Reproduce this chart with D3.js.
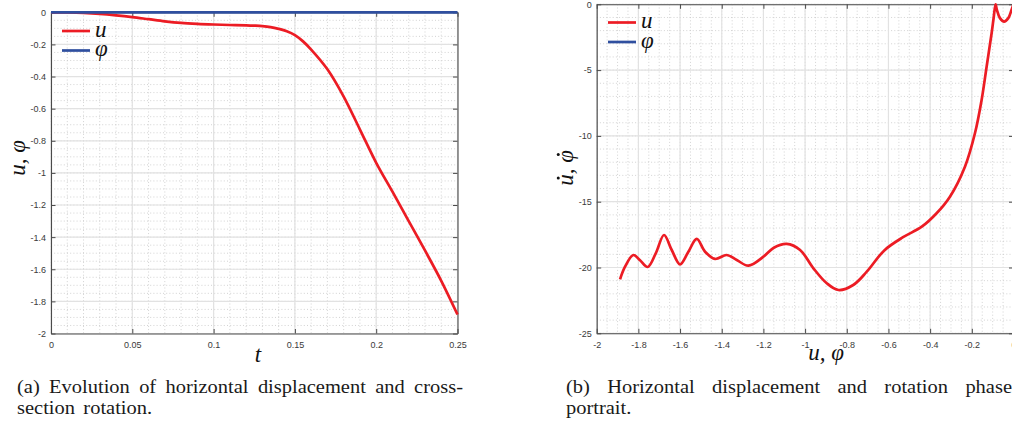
<!DOCTYPE html>
<html><head><meta charset="utf-8">
<script src="https://cdn.jsdelivr.net/npm/d3@7"></script>
<style>
html,body{margin:0;padding:0;background:#fff;}
svg{display:block;}
</style></head><body>
<svg id="fig" width="1012" height="429"></svg>
<script>
// ---- time history: horizontal displacement u(t) and rotation phi(t)
const timeT = [0, 0.01, 0.02, 0.03, 0.04, 0.05, 0.06, 0.07, 0.08, 0.09, 0.10, 0.11, 0.12, 0.125, 0.13,
               0.135, 0.14, 0.145, 0.15, 0.155, 0.16, 0.17, 0.18, 0.19, 0.20, 0.21, 0.22, 0.23, 0.24, 0.25];
const dispU = [0, -0.001, -0.004, -0.010, -0.019, -0.030, -0.043, -0.056, -0.066, -0.072, -0.076, -0.079, -0.081, -0.083, -0.086,
               -0.092, -0.103, -0.118, -0.142, -0.181, -0.232, -0.355, -0.525, -0.730, -0.937, -1.117, -1.300, -1.483, -1.672, -1.882];
const rotPhi = [0, 0, 0, 0, 0, 0, 0, 0, 0, 0, 0, 0, 0, 0, 0,
                0, 0, 0, 0, 0, 0, 0, 0, 0, 0, 0, 0, 0, 0, 0];

// ---- phase portrait: (u, du/dt) in time order, (phi, dphi/dt)
const phaseU  = [0, -0.010, -0.025, -0.045, -0.065, -0.080, -0.086, -0.095, -0.105, -0.129, -0.153, -0.185,
                 -0.233, -0.305, -0.369, -0.440, -0.530, -0.620, -0.704, -0.769, -0.840, -0.896, -0.960,
                 -1.024, -1.088, -1.150, -1.200, -1.272, -1.328, -1.376, -1.432, -1.480, -1.520, -1.560,
                 -1.600, -1.640, -1.677, -1.716, -1.755, -1.792, -1.824, -1.864, -1.888];
const phaseDU = [0, -0.45, -1.05, -1.32, -1.05, -0.40, 0, -1.0, -2.2, -4.74, -7.27, -9.8,
                 -12.34, -14.62, -15.88, -16.9, -17.7, -18.7, -20.32, -21.33, -21.71, -21.2, -20.06,
                 -18.67, -18.21, -18.5, -19.18, -19.86, -19.43, -19.05, -19.35, -18.8, -17.83, -18.8,
                 -19.76, -18.67, -17.53, -18.9, -19.96, -19.45, -19.05, -19.94, -20.9];
const phasePhi  = [0, 0];
const phaseDPhi = [0, 0];

// ---- ticks
const tTicks  = [0, 0.05, 0.1, 0.15, 0.2, 0.25];
const tLabels = ["0", "0.05", "0.1", "0.15", "0.2", "0.25"];
const uTicks  = [0, -0.2, -0.4, -0.6, -0.8, -1, -1.2, -1.4, -1.6, -1.8, -2];
const uLabels = ["0", "-0.2", "-0.4", "-0.6", "-0.8", "-1", "-1.2", "-1.4", "-1.6", "-1.8", "-2"];
const pTicks  = [-2, -1.8, -1.6, -1.4, -1.2, -1, -0.8, -0.6, -0.4, -0.2, 0];
const pLabels = ["-2", "-1.8", "-1.6", "-1.4", "-1.2", "-1", "-0.8", "-0.6", "-0.4", "-0.2", "0"];
const vTicks  = [0, -5, -10, -15, -20, -25];
const vLabels = ["0", "-5", "-10", "-15", "-20", "-25"];

const RED = "#ec1c24", BLUE = "#2f4f9f";
const mathFont = "Liberation Serif, Times New Roman, serif";
const svg = d3.select("#fig");

function panel(o) {
  const g = svg.append("g");
  const [xa, xb] = o.x.range();
  const [yb, ya] = o.y.range();
  // minor grid (dotted)
  g.append("g").selectAll("line").data(o.xMinor).join("line")
    .attr("x1", d => o.x(d)).attr("x2", d => o.x(d)).attr("y1", ya).attr("y2", yb)
    .attr("stroke", "#c8c8c8").attr("stroke-width", 0.8).attr("stroke-dasharray", "1,2.2");
  g.append("g").selectAll("line").data(o.yMinor).join("line")
    .attr("y1", d => o.y(d)).attr("y2", d => o.y(d)).attr("x1", xa).attr("x2", xb)
    .attr("stroke", "#c8c8c8").attr("stroke-width", 0.8).attr("stroke-dasharray", "1,2.2");
  // major grid
  g.append("g").selectAll("line").data(o.xTicks).join("line")
    .attr("x1", d => o.x(d)).attr("x2", d => o.x(d)).attr("y1", ya).attr("y2", yb)
    .attr("stroke", "#e2e2e2").attr("stroke-width", 1.2);
  g.append("g").selectAll("line").data(o.yTicks).join("line")
    .attr("y1", d => o.y(d)).attr("y2", d => o.y(d)).attr("x1", xa).attr("x2", xb)
    .attr("stroke", "#e2e2e2").attr("stroke-width", 1.2);

  const fmt = (labels, ticks) => d => labels[ticks.indexOf(d)];
  const style = a => {
    a.selectAll("path.domain").attr("stroke", "#4a4a4a").attr("stroke-width", 1.1);
    a.selectAll(".tick line").attr("stroke", "#4a4a4a").attr("stroke-width", 1);
    a.selectAll("text").attr("fill", "#3a3a3a").style("font-family", "Liberation Sans, Arial, sans-serif").style("font-size", "9px");
  };
  g.append("g").attr("transform", `translate(0,${yb})`)
    .call(d3.axisBottom(o.x).tickValues(o.xTicks).tickFormat(fmt(o.xLabels, o.xTicks))
      .tickSizeInner(-4.5).tickSizeOuter(0).tickPadding(8.5)).call(style);
  g.append("g").attr("transform", `translate(0,${ya})`)
    .call(d3.axisTop(o.x).tickValues(o.xTicks).tickFormat("")
      .tickSizeInner(-4.5).tickSizeOuter(0)).call(style);
  g.append("g").attr("transform", `translate(${xa},0)`)
    .call(d3.axisLeft(o.y).tickValues(o.yTicks).tickFormat(fmt(o.yLabels, o.yTicks))
      .tickSizeInner(-4.5).tickSizeOuter(0).tickPadding(5)).call(style);
  g.append("g").attr("transform", `translate(${xb},0)`)
    .call(d3.axisRight(o.y).tickValues(o.yTicks).tickFormat("")
      .tickSizeInner(-4.5).tickSizeOuter(0)).call(style);

  // curves
  o.series.forEach(s => {
    const pts = s.xs.map((v, i) => [v, s.ys[i]]);
    g.append("path").datum(pts)
      .attr("d", d3.line().x(d => o.x(d[0])).y(d => o.y(d[1])).curve(d3.curveCatmullRom.alpha(0.5)))
      .attr("fill", "none").attr("stroke", s.color).attr("stroke-width", 2.7)
      .attr("stroke-linejoin", "round").attr("stroke-linecap", "butt");
  });

  // legend
  const lg = g.append("g").attr("transform", `translate(${o.legend[0]},${o.legend[1]})`);
  o.series.forEach((s, i) => {
    lg.append("line").attr("x1", 0).attr("x2", 28).attr("y1", i * 19.5).attr("y2", i * 19.5)
      .attr("stroke", s.color).attr("stroke-width", 2.7);
    lg.append("text").attr("x", 33).attr("y", i * 19.5 + 5.5).text(s.name)
      .style("font-family", mathFont).style("font-style", "italic")
      .style("font-size", "23px").attr("fill", "#111");
  });
  return g;
}

// (a) time history
const xA = d3.scaleLinear().domain([0, 0.25]).range([51, 457.5]);
const yA = d3.scaleLinear().domain([-2, 0]).range([333.5, 12.3]);
panel({
  x: xA, y: yA,
  xTicks: tTicks, xLabels: tLabels, yTicks: uTicks, yLabels: uLabels,
  xMinor: d3.range(0, 0.2501, 0.01), yMinor: d3.range(-2, 0.0001, 0.05),
  series: [
    { xs: timeT, ys: dispU, color: RED, name: "u" },
    { xs: timeT, ys: rotPhi, color: BLUE, name: "\u03C6" }
  ],
  legend: [62, 31]
});

// (b) phase portrait
const xB = d3.scaleLinear().domain([-2, 0]).range([596.7, 1013.5]);
const yB = d3.scaleLinear().domain([-25, 0]).range([333.3, 4.3]);
panel({
  x: xB, y: yB,
  xTicks: pTicks, xLabels: pLabels, yTicks: vTicks, yLabels: vLabels,
  xMinor: d3.range(-2, 0.0001, 0.05), yMinor: d3.range(-25, 0.0001, 1),
  series: [
    { xs: phaseU, ys: phaseDU, color: RED, name: "u" },
    { xs: phasePhi, ys: phaseDPhi, color: BLUE, name: "\u03C6" }
  ],
  legend: [608, 22.5]
});

// axis titles; dotIdx marks characters that carry a time-derivative dot
function mathText(x, y, str, rot, dotIdx) {
  const fs = 23;
  const g = svg.append("g").attr("transform", `translate(${x},${y})` + (rot ? " rotate(-90)" : ""));
  const t = g.append("text").attr("text-anchor", "middle").text(str)
    .style("font-family", mathFont).style("font-style", "italic").style("font-size", fs + "px").attr("fill", "#111");
  (dotIdx || []).forEach(i => {
    const e = t.node().getExtentOfChar(i);
    g.append("circle").attr("cx", e.x + e.width / 2 + 2).attr("cy", -0.64 * fs).attr("r", 1.5).attr("fill", "#111");
  });
}
mathText(258, 362, "t");
mathText(826, 360, "u, \u03C6");
mathText(25, 158, "u, \u03C6", true);
mathText(573, 168, "u, \u03C6", true, [0, 3]);

// captions (first line justified to the column width)
function caption(x, y, width, words, justify) {
  const sx = 1.05;
  const t = svg.append("text").attr("transform", `translate(${x},${y}) scale(${sx},1)`)
    .style("font-family", mathFont).style("font-size", "19.5px").attr("fill", "#1a1a1a");
  const spans = words.map(w => t.append("tspan").text(w));
  const widths = spans.map(s => s.node().getComputedTextLength());
  const total = d3.sum(widths);
  const gap = justify ? (width / sx - total) / (words.length - 1) : 8;
  let cx = 0;
  spans.forEach((s, i) => { s.attr("x", cx); cx += widths[i] + gap; });
}
caption(17, 392.5, 446, ["(a)", "Evolution", "of", "horizontal", "displacement", "and", "cross-"], true);
caption(17, 414, 446, ["section", "rotation."], false);
caption(566, 392.5, 446, ["(b)", "Horizontal", "displacement", "and", "rotation", "phase"], true);
caption(566, 414, 446, ["portrait."], false);
</script>
</body></html>
